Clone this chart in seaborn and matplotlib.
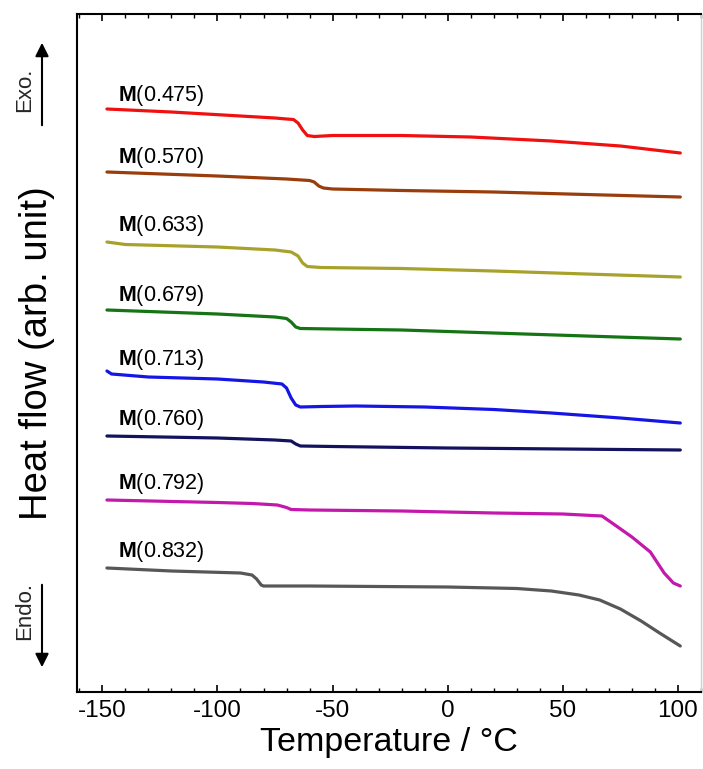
import numpy as np
import pandas as pd
import matplotlib
matplotlib.use("Agg")
import matplotlib.pyplot as plt
import seaborn as sns
from matplotlib.ticker import MultipleLocator

sns.set_theme(style="white")
plt.rcParams['font.family'] = ['Liberation Sans', 'DejaVu Sans']
plt.rcParams['mathtext.fontset'] = 'custom'
plt.rcParams['mathtext.bf'] = 'Liberation Sans:bold'
plt.rcParams['mathtext.rm'] = 'Liberation Sans'
plt.rcParams['axes.unicode_minus'] = False

# ---- data (heat flow in arbitrary units, offset curves) ----
labels = ["0.475", "0.570", "0.633", "0.679", "0.713", "0.760", "0.792", "0.832"]
colors = ["#f01010", "#9a3d0c", "#a8a22c", "#157515", "#1515e6", "#12125e", "#c418ac", "#575757"]

t_0475 = [-148, -120, -90, -75, -70, -67, -65, -63, -61, -58, -50, -20, 10, 45, 75, 101]
h_0475 = [583, 580, 576, 574, 573, 572.5, 569, 562, 556.5, 555.5, 556.5, 556.5, 555, 551, 546, 539]

t_0570 = [-148, -100, -70, -60, -58, -56, -54, -50, -20, 20, 60, 101]
h_0570 = [520, 516, 513, 511.5, 510, 506, 504, 503, 501.5, 500, 497.5, 495]

t_0633 = [-148, -140, -100, -75, -68, -65, -63, -61, -55, -20, 20, 60, 101]
h_0633 = [450, 447.5, 445, 442, 440, 436, 429, 425.5, 424.5, 423.5, 421, 418, 415]

t_0679 = [-148, -100, -75, -70, -68, -66, -64, -50, -20, 20, 60, 101]
h_0679 = [382, 378, 375, 373.5, 370, 365, 363.5, 363, 362, 359, 356, 353]

t_0713 = [-148, -146, -130, -100, -80, -72, -70, -68, -66, -64, -55, -40, -10, 20, 45, 75, 101]
h_0713 = [321, 318, 315, 313, 310, 308, 304, 294, 287, 285, 285.5, 286, 285, 282.5, 279, 274, 269]

t_0760 = [-148, -100, -75, -68, -66, -64, -50, 0, 50, 101]
h_0760 = [256, 254, 252, 251, 248, 246, 245.5, 244, 243, 242]

t_0792 = [-148, -100, -85, -74, -70, -68, -60, -20, 20, 50, 67, 72, 80, 88, 94, 98, 101]
h_0792 = [192, 189.5, 188.5, 187, 184.5, 182.5, 182, 181, 179, 178, 176, 168, 155, 140, 119, 109, 106]

t_0832 = [-148, -120, -90, -85, -83, -81, -80, -60, 0, 30, 45, 57, 66, 75, 84, 92, 101]
h_0832 = [124, 121, 119, 117, 113, 107, 106, 106, 105, 103.5, 101, 97, 92, 83, 71, 59, 46]

temps = [t_0475, t_0570, t_0633, t_0679, t_0713, t_0760, t_0792, t_0832]
flows = [h_0475, h_0570, h_0633, h_0679, h_0713, h_0760, h_0792, h_0832]

# label anchor (temperature, heat flow)
label_t = -143.2
label_h = [597, 535, 466, 396, 332, 272, 208, 140]

frames = []
for lab, t, h in zip(labels, temps, flows):
    frames.append(pd.DataFrame({"T": t, "H": h, "sample": lab}))
df = pd.concat(frames, ignore_index=True)

fig = plt.figure(figsize=(7.03, 7.69), dpi=100)
ax = fig.add_axes([77/703, 1-692/769, (701-77)/703, (692-14)/769])

sns.lineplot(data=df, x="T", y="H", hue="sample", palette=dict(zip(labels, colors)),
             sort=False, estimator=None, linewidth=2.3, legend=False, ax=ax)

for lab, y in zip(labels, label_h):
    ax.text(label_t, y, r"$\mathbf{M}$(" + lab + ")", fontsize=15.5, va="center", ha="left", color="black")

ax.set_xlim(-161, 110)
ax.set_ylim(0, 678)
ax.xaxis.set_major_locator(MultipleLocator(50))
ax.xaxis.set_minor_locator(MultipleLocator(10))
ax.tick_params(axis="x", which="both", direction="in", top=True, bottom=True,
               labelsize=17.5, colors="black", pad=6)
ax.tick_params(axis="x", which="major", length=5, width=1.2)
ax.tick_params(axis="x", which="minor", length=3, width=1.0)
ax.set_yticks([])
ax.set_xlabel("Temperature / °C", fontsize=24.5, color="black", labelpad=3)
ax.set_ylabel("Heat flow (arb. unit)", fontsize=27.5, color="black", labelpad=16)

for s in ["left", "bottom", "top"]:
    ax.spines[s].set_color("black")
    ax.spines[s].set_linewidth(1.5)
ax.spines["right"].set_color("#d0d0d0")
ax.spines["right"].set_linewidth(1.0)

# Exo / Endo arrows
ax.annotate("", xy=(42/703, 1-40/769), xytext=(42/703, 1-128/769), xycoords="figure fraction",
            textcoords="figure fraction",
            arrowprops=dict(arrowstyle="-|>", mutation_scale=20, lw=1.5, color="black"))
ax.annotate("", xy=(42/703, 1-670/769), xytext=(42/703, 1-582/769), xycoords="figure fraction",
            textcoords="figure fraction",
            arrowprops=dict(arrowstyle="-|>", mutation_scale=20, lw=1.5, color="black"))
fig.text(25/703, 1-90/769, "Exo.", rotation=90, fontsize=16, ha="center", va="center")
fig.text(25/703, 1-611/769, "Endo.", rotation=90, fontsize=16, ha="center", va="center")

fig.savefig("out.png", dpi=100)
